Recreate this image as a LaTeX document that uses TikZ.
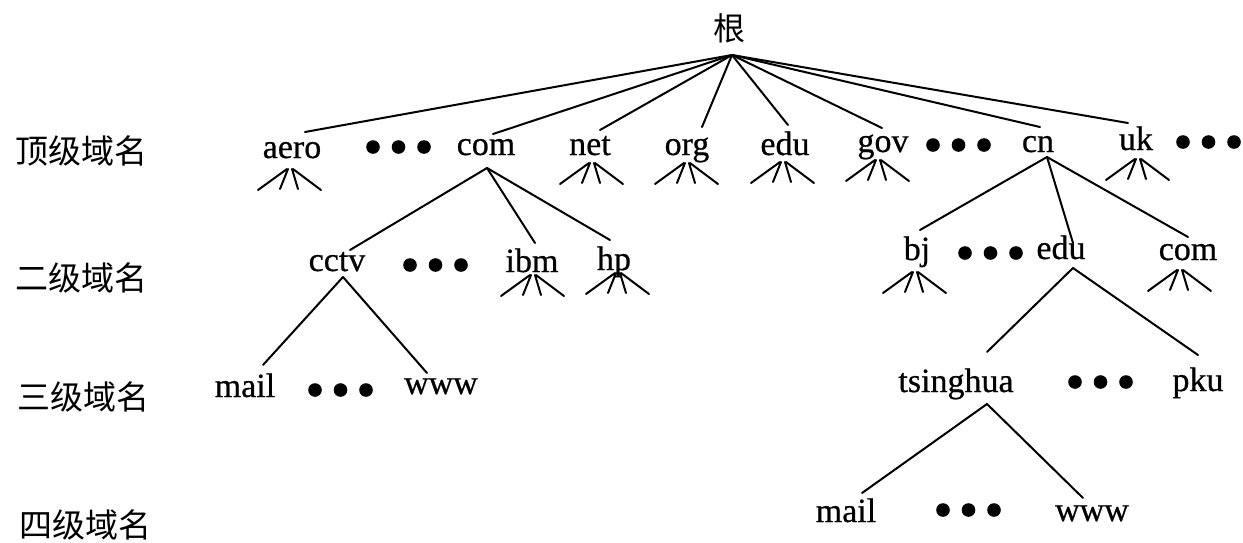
\documentclass[tikz,border=0pt]{standalone}
\usepackage{fontspec}
\setmainfont{Liberation Serif}
\newfontface\domfont{Liberation Serif}[FakeBold=0.6]
\newfontfamily\cjk{Noto Sans CJK SC}
% three filled dots standing for omitted names
\newcommand\dotrow[2]{\foreach \k in {0,1,2} {\fill ({#1+25.5*\k},#2) circle[radius=6.8];}}
% small fan of four branches hanging under a name
\newcommand\subfan[1]{\draw[edge] (#1) ++(-3,1) -- ++(-29,21) (#1) ++(-2,1) -- ++(-8,20) (#1) ++(2,1) -- ++(6,20) (#1) ++(3,1) -- ++(28,21);}
\begin{document}
\begin{tikzpicture}[x=1pt,y=-1pt,
  lbl/.style={anchor=base,inner sep=0pt,font=\domfont\fontsize{34}{40}\selectfont},
  lvl/.style={anchor=west,inner sep=0pt,font=\cjk\fontsize{33}{40}\selectfont},
  edge/.style={line width=2pt,line cap=round},
]
\useasboundingbox (0,0) rectangle (1243,542);

% level captions
\node[lvl] (l1) at (15,151) {顶级域名};
\node[lvl] (l2) at (15,278) {二级域名};
\node[lvl] (l3) at (17,397) {三级域名};
\node[lvl] (l4) at (19,525) {四级域名};

% root
\node[inner sep=0pt,font=\cjk\fontsize{32}{38}\selectfont] (root) at (729,28) {根};
\coordinate (root-out) at (732,55);

% top-level domains
\node[lbl] (aero) at (292,158) {aero};
\node[lbl] (com)  at (486,155) {com};
\node[lbl] (net)  at (590,155) {net};
\node[lbl] (org)  at (687,155) {org};
\node[lbl] (edu)  at (785,155) {edu};
\node[lbl] (gov)  at (883,152) {gov};
\node[lbl] (cn)   at (1038,152) {cn};
\node[lbl] (uk)   at (1136,150) {uk};
\dotrow{373}{147}
\dotrow{933}{145}
\dotrow{1183}{142}

\coordinate (aero-in) at (305,132);
\coordinate (com-in)  at (493,134);
\coordinate (net-in)  at (600,130);
\coordinate (org-in)  at (702,127);
\coordinate (edu-in)  at (788,125);
\coordinate (gov-in)  at (882,128);
\coordinate (cn-in)   at (1040,127);
\coordinate (uk-in)   at (1128,123);
\foreach \n in {aero,com,net,org,edu,gov,cn,uk}
  {\draw[edge] (root-out) -- (\n-in);}

\coordinate (aero-out) at (290,168);
\coordinate (net-out)  at (592,162);
\coordinate (org-out)  at (687,162);
\coordinate (edu-out)  at (783,161);
\coordinate (gov-out)  at (878,159);
\coordinate (uk-out)   at (1138,158);
\foreach \n in {aero,net,org,edu,gov,uk} {\subfan{\n-out}}

% second level
\node[lbl] (cctv)  at (337,271) {cctv};
\node[lbl] (ibm)   at (532,272) {ibm};
\node[lbl] (hp)    at (614,270) {hp};
\node[lbl] (bj)    at (917,260) {bj};
\node[lbl] (cnedu) at (1061,259) {edu};
\node[lbl] (cncom) at (1188,260) {com};
\dotrow{410}{265}
\dotrow{965}{253}

\coordinate (com-out)   at (487,168);
\coordinate (cctv-in)   at (350,250);
\coordinate (ibm-in)    at (535,243);
\coordinate (hp-in)     at (610,240);
\draw[edge] (com-out) -- (cctv-in);
\draw[edge] (com-out) -- (ibm-in);
\draw[edge] (com-out) -- (hp-in);

\coordinate (cn-out)    at (1047,157);
\coordinate (bj-in)     at (920,230);
\coordinate (cnedu-in)  at (1073,243);
\coordinate (cncom-in)  at (1188,237);
\draw[edge] (cn-out) -- (bj-in);
\draw[edge] (cn-out) -- (cnedu-in);
\draw[edge] (cn-out) -- (cncom-in);

\coordinate (ibm-out)   at (533,274);
\coordinate (hp-out)    at (618,272);
\coordinate (bj-out)    at (915,271);
\coordinate (cncom-out) at (1180,269);
\foreach \n in {ibm,hp,bj,cncom} {\subfan{\n-out}}

% third level
\node[lbl] (mail)     at (245,397) {mail};
\node[lbl] (www)      at (441,394) {www};
\node[lbl] (tsinghua) at (956,392) {tsinghua};
\node[lbl] (pku)      at (1198,391) {pku};
\dotrow{315}{390}
\dotrow{1075}{382}

\coordinate (cctv-out)    at (343,277);
\coordinate (mail-in)     at (263,365);
\coordinate (www-in)      at (427,373);
\draw[edge] (cctv-out) -- (mail-in);
\draw[edge] (cctv-out) -- (www-in);

\coordinate (cnedu-out)   at (1073,268);
\coordinate (tsinghua-in) at (987,352);
\coordinate (pku-in)      at (1198,355);
\draw[edge] (cnedu-out) -- (tsinghua-in);
\draw[edge] (cnedu-out) -- (pku-in);

% fourth level
\node[lbl] (tmail) at (846,522) {mail};
\node[lbl] (twww)  at (1092,521) {www};
\dotrow{943}{510}

\coordinate (tsinghua-out) at (987,404);
\coordinate (tmail-in)     at (862,493);
\coordinate (twww-in)      at (1083,498);
\draw[edge] (tsinghua-out) -- (tmail-in);
\draw[edge] (tsinghua-out) -- (twww-in);
\end{tikzpicture}
\end{document}
